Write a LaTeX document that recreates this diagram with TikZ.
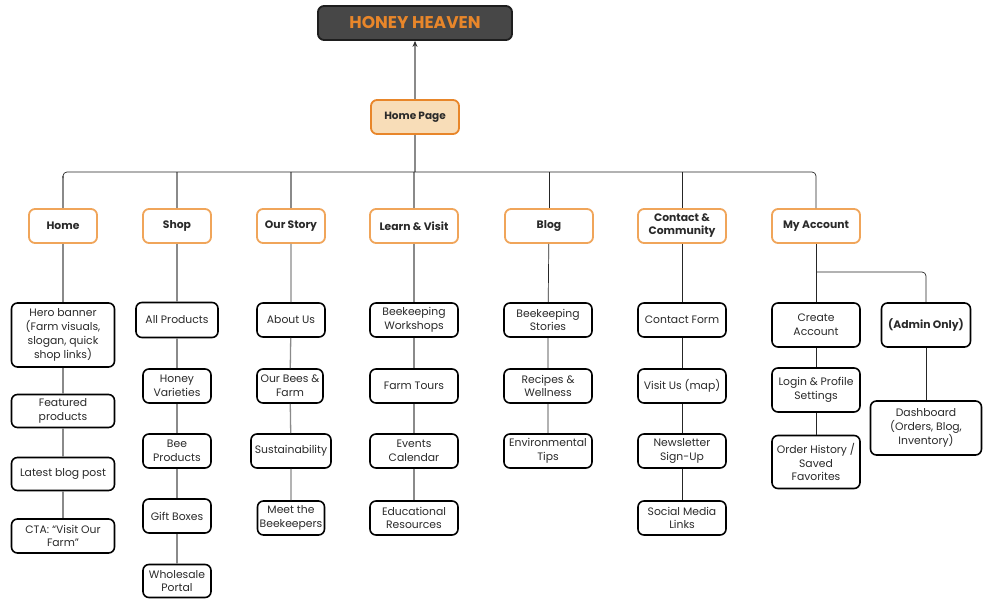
\documentclass[tikz,border=0pt]{standalone}
\usepackage{fontspec}
\setmainfont{Poppins}
\usetikzlibrary{arrows.meta}
\definecolor{hhfill}{HTML}{474747}
\definecolor{hhdraw}{HTML}{1E1E1E}
\definecolor{orng}{HTML}{E8862A}
\definecolor{lorng}{HTML}{F0A55A}
\definecolor{peach}{HTML}{F8DDB8}
\definecolor{gline}{HTML}{8A8A8A}
\definecolor{txt}{HTML}{2A2A2A}
\tikzset{
  base/.style={rounded corners=6pt, inner sep=0pt, align=center, text=txt},
  title/.style={base, fill=hhfill, draw=hhdraw, line width=1.8pt, text=orng, font=\fontsize{17}{19}\selectfont\bfseries},
  homepg/.style={base, fill=peach, draw=orng, line width=1.8pt, font=\fontsize{10.5}{12.5}\selectfont\bfseries},
  lone/.style={base, fill=white, draw=lorng, line width=1.8pt, font=\fontsize{10.8}{13}\selectfont\bfseries},
  ltwo/.style={base, fill=white, draw=black, line width=1.6pt, font=\fontsize{10.8}{13.8}\selectfont},
  gl/.style={draw=gline, line width=1.3pt},
  bl/.style={draw=black!85, line width=0.7pt},
  sz/.style 2 args={minimum width=#1pt, minimum height=#2pt},
}
\begin{document}
\begin{tikzpicture}[x=1pt,y=-1pt]
\useasboundingbox (0,0) rectangle (991,604);
% top
\node[title, sz={194}{34}] (hh) at (415,23) {HONEY HEAVEN};
\node[homepg, sz={88}{34}] (hp) at (415,117) {Home Page};
\draw[gl, -{Stealth[length=6pt,width=5pt,color=black!80]}] (hp) -- (hh);
% level 1
\node[lone, sz={68}{34}] (home) at (63,226) {Home};
\node[lone, sz={68}{34}] (shop) at (177,226) {Shop};
\node[lone, sz={68}{34}] (story) at (291,226) {Our Story};
\node[lone, sz={88}{34}] (learn) at (414,226) {Learn \& Visit};
\node[lone, sz={88}{34}] (blog) at (549,226) {Blog};
\node[lone, sz={88}{34}] (contact) at (682,226) {Contact \&\\Community};
\node[lone, sz={88}{34}] (mya) at (816,226) {My Account};
% bus
\coordinate (bus) at (415,172);
\draw[gl] (hp) -- (bus);
\draw[gl] (home.north) -- ++(0,-32);
\draw[gl] (shop.north) -- (shop.north |- bus);
\draw[gl] (story.north) -- (story.north |- bus);
\draw[gl] (learn.north) -- (learn.north |- bus);
\draw[bl, rounded corners=4pt] (home.north) ++(0,-30) |- (bus) -| (mya.north);
\draw[bl] (blog.north) -- (blog.north |- bus);
\draw[bl] (contact.north) -- (contact.north |- bus);
% Home column
\node[ltwo, sz={103}{64}] (hero) at (63,335) {Hero banner\\(Farm visuals,\\slogan, quick\\shop links)};
\node[ltwo, sz={103}{33}] (feat) at (63,411) {Featured\\products};
\node[ltwo, sz={103}{33}] (latest) at (63,474) {Latest blog post};
\node[ltwo, sz={103}{34}] (cta) at (63,536) {CTA: “Visit Our\\Farm”};
\draw[gl] (home) -- (hero) -- (feat) -- (latest) -- (cta);
% Shop column
\node[ltwo, sz={82}{35}] (allp) at (177,320) {All Products};
\node[ltwo, sz={68}{34}] (honeyv) at (177,386) {Honey\\Varieties};
\node[ltwo, sz={68}{34}] (beep) at (177,451) {Bee\\Products};
\node[ltwo, sz={68}{34}] (gift) at (177,516) {Gift Boxes};
\node[ltwo, sz={68}{33}] (whole) at (177,581) {Wholesale\\Portal};
\draw[gl] (shop) -- (allp) -- (honeyv) -- (beep) -- (gift) -- (whole);
% Our Story column
\node[ltwo, sz={68}{34}] (about) at (291,320) {About Us};
\node[ltwo, sz={66}{34}] (bees) at (290,386) {Our Bees \&\\Farm};
\node[ltwo, sz={80}{34}] (sust) at (291,451) {Sustainability};
\node[ltwo, sz={67}{34}] (meet) at (291,518) {Meet the\\Beekeepers};
\draw[gl] (story) -- (about) -- (bees) -- (sust) -- (meet);
% Learn column
\node[ltwo, sz={88}{34}] (work) at (414,320) {Beekeeping\\Workshops};
\node[ltwo, sz={88}{34}] (tours) at (414,386) {Farm Tours};
\node[ltwo, sz={88}{34}] (events) at (414,451) {Events\\Calendar};
\node[ltwo, sz={88}{34}] (edu) at (414,518) {Educational\\Resources};
\draw[gl] (learn) -- (work) -- (tours) -- (events) -- (edu);
% Blog column
\node[ltwo, sz={88}{34}] (stories) at (548,320) {Beekeeping\\Stories};
\node[ltwo, sz={88}{34}] (recipes) at (548,386) {Recipes \&\\Wellness};
\node[ltwo, sz={88}{34}] (env) at (548,451) {Environmental\\Tips};
\draw[bl] (blog) -- (stories) -- (recipes) -- (env);
% Contact column
\node[ltwo, sz={88}{34}] (cform) at (682,320) {Contact Form};
\node[ltwo, sz={88}{34}] (visit) at (682,386) {Visit Us (map)};
\node[ltwo, sz={88}{34}] (news) at (682,451) {Newsletter\\Sign-Up};
\node[ltwo, sz={88}{34}] (social) at (682,518) {Social Media\\Links};
\draw[bl] (contact) -- (cform) -- (visit) -- (news) -- (social);
% My Account column
\node[ltwo, sz={88}{44}] (create) at (816,325) {Create\\Account};
\node[ltwo, sz={88}{44}] (login) at (816,390) {Login \& Profile\\Settings};
\node[ltwo, sz={88}{53}] (order) at (816,462) {Order History /\\Saved\\Favorites};
\node[ltwo, sz={89}{44}, font=\fontsize{10.8}{13}\selectfont\bfseries] (admin) at (926,325) {(Admin Only)};
\node[ltwo, sz={111}{54}] (dash) at (926,428) {Dashboard\\(Orders, Blog,\\Inventory)};
\coordinate (ab) at (816,272);
\draw[bl] (mya) -- (create) -- (login) -- (order);
\draw[bl, rounded corners=4pt] (ab) -| (admin.north);
\draw[bl] (admin) -- (dash);
\end{tikzpicture}
\end{document}
